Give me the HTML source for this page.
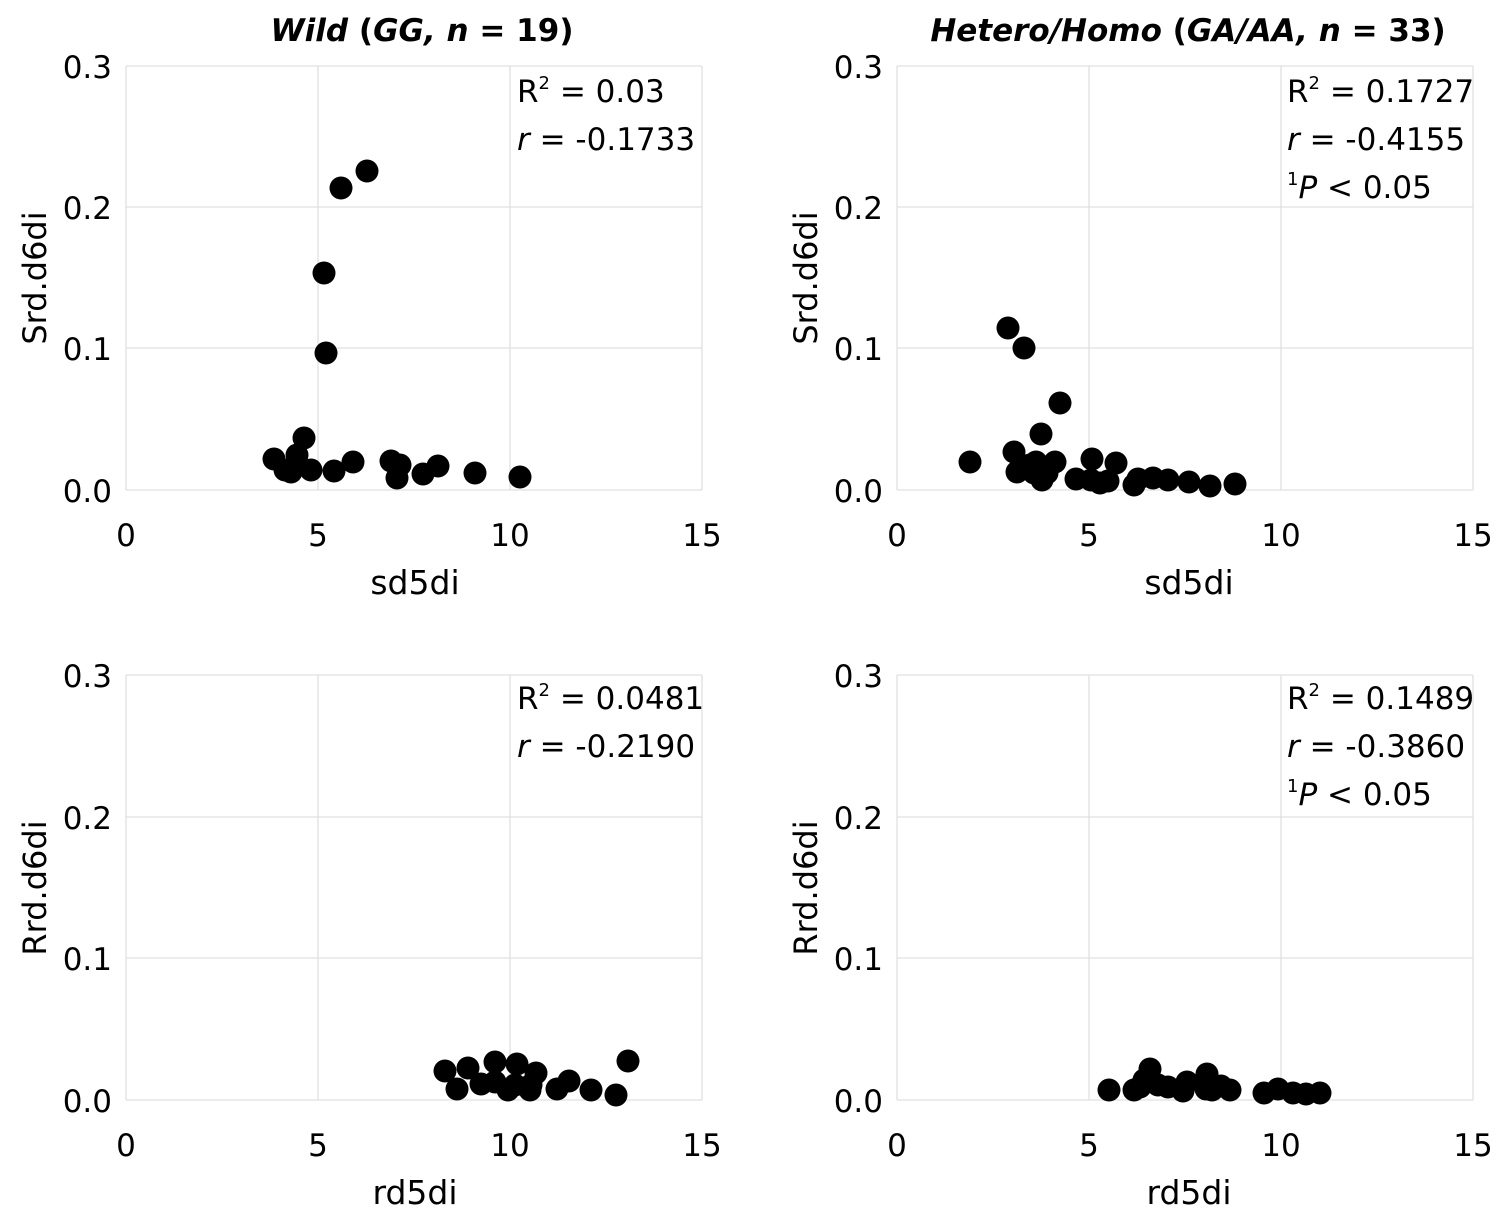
<!DOCTYPE html>
<html><head><meta charset="utf-8"><style>
html,body{margin:0;padding:0;background:#fff}
svg{display:block}
text{font-family:"DejaVu Sans","Liberation Sans",sans-serif;fill:#000}
</style></head><body>
<svg width="1498" height="1223" viewBox="0 0 1498 1223" xmlns="http://www.w3.org/2000/svg">
<g stroke="#e0e0e0" stroke-width="1.3" fill="none">
<line x1="126" y1="66" x2="702" y2="66"/><line x1="126" y1="207" x2="702" y2="207"/><line x1="126" y1="348" x2="702" y2="348"/><line x1="126" y1="490" x2="702" y2="490"/>
<line x1="126" y1="66" x2="126" y2="490"/><line x1="318" y1="66" x2="318" y2="490"/><line x1="510" y1="66" x2="510" y2="490"/><line x1="702" y1="66" x2="702" y2="490"/>
<line x1="897" y1="66" x2="1473" y2="66"/><line x1="897" y1="207" x2="1473" y2="207"/><line x1="897" y1="348" x2="1473" y2="348"/><line x1="897" y1="490" x2="1473" y2="490"/>
<line x1="897" y1="66" x2="897" y2="490"/><line x1="1089" y1="66" x2="1089" y2="490"/><line x1="1281" y1="66" x2="1281" y2="490"/><line x1="1473" y1="66" x2="1473" y2="490"/>
<line x1="126" y1="675" x2="702" y2="675"/><line x1="126" y1="817" x2="702" y2="817"/><line x1="126" y1="958" x2="702" y2="958"/><line x1="126" y1="1100" x2="702" y2="1100"/>
<line x1="126" y1="675" x2="126" y2="1100"/><line x1="318" y1="675" x2="318" y2="1100"/><line x1="510" y1="675" x2="510" y2="1100"/><line x1="702" y1="675" x2="702" y2="1100"/>
<line x1="897" y1="675" x2="1473" y2="675"/><line x1="897" y1="817" x2="1473" y2="817"/><line x1="897" y1="958" x2="1473" y2="958"/><line x1="897" y1="1100" x2="1473" y2="1100"/>
<line x1="897" y1="675" x2="897" y2="1100"/><line x1="1089" y1="675" x2="1089" y2="1100"/><line x1="1281" y1="675" x2="1281" y2="1100"/><line x1="1473" y1="675" x2="1473" y2="1100"/>
</g>

<g fill="#000">
<circle cx="274" cy="459" r="11.5"/><circle cx="304" cy="438" r="11.5"/><circle cx="291" cy="472" r="11.5"/><circle cx="311" cy="470" r="11.5"/><circle cx="297" cy="455" r="11.5"/><circle cx="285" cy="470" r="11.5"/><circle cx="334" cy="471" r="11.5"/><circle cx="353" cy="462" r="11.5"/><circle cx="391" cy="461" r="11.5"/><circle cx="397" cy="478" r="11.5"/><circle cx="400" cy="465" r="11.5"/><circle cx="423" cy="474" r="11.5"/><circle cx="438" cy="466" r="11.5"/><circle cx="475" cy="473" r="11.5"/><circle cx="520" cy="477" r="11.5"/>
<circle cx="341" cy="188" r="11.5"/><circle cx="367" cy="171" r="11.5"/><circle cx="324" cy="273" r="11.5"/><circle cx="326" cy="353" r="11.5"/>
<circle cx="1008" cy="328" r="11.5"/><circle cx="1024" cy="348" r="11.5"/><circle cx="970" cy="462" r="11.5"/><circle cx="1060" cy="403" r="11.5"/><circle cx="1041" cy="434" r="11.5"/>
<circle cx="1014" cy="452" r="11.5"/><circle cx="1017" cy="472" r="11.5"/><circle cx="1034" cy="473" r="11.5"/><circle cx="1036" cy="462" r="11.5"/><circle cx="1055" cy="462" r="11.5"/><circle cx="1042" cy="480" r="11.5"/><circle cx="1047" cy="473" r="11.5"/><circle cx="1030" cy="465" r="11.5"/>
<circle cx="1076" cy="479" r="11.5"/><circle cx="1091" cy="480" r="11.5"/><circle cx="1092" cy="459" r="11.5"/><circle cx="1100" cy="483" r="11.5"/><circle cx="1116" cy="463" r="11.5"/><circle cx="1108" cy="481" r="11.5"/><circle cx="1134" cy="485" r="11.5"/><circle cx="1138" cy="479" r="11.5"/><circle cx="1153" cy="478" r="11.5"/><circle cx="1168" cy="480" r="11.5"/><circle cx="1189" cy="482" r="11.5"/><circle cx="1210" cy="486" r="11.5"/><circle cx="1235" cy="484" r="11.5"/>
<circle cx="445" cy="1071" r="11.5"/><circle cx="457" cy="1089" r="11.5"/><circle cx="468" cy="1068" r="11.5"/><circle cx="481" cy="1084" r="11.5"/><circle cx="495" cy="1062" r="11.5"/><circle cx="508" cy="1090" r="11.5"/><circle cx="517" cy="1064" r="11.5"/><circle cx="530" cy="1090" r="11.5"/><circle cx="536" cy="1073" r="11.5"/><circle cx="531" cy="1085" r="11.5"/><circle cx="557" cy="1089" r="11.5"/><circle cx="569" cy="1081" r="11.5"/><circle cx="591" cy="1090" r="11.5"/><circle cx="616" cy="1095" r="11.5"/><circle cx="628" cy="1061" r="11.5"/><circle cx="495" cy="1082" r="11.5"/><circle cx="515" cy="1085" r="11.5"/>
<circle cx="1109" cy="1090" r="11.5"/><circle cx="1134" cy="1090" r="11.5"/><circle cx="1144" cy="1080" r="11.5"/><circle cx="1150" cy="1069" r="11.5"/><circle cx="1140" cy="1087" r="11.5"/><circle cx="1168" cy="1087" r="11.5"/><circle cx="1187" cy="1082" r="11.5"/><circle cx="1183" cy="1091" r="11.5"/><circle cx="1206" cy="1089" r="11.5"/><circle cx="1207" cy="1074" r="11.5"/><circle cx="1212" cy="1090" r="11.5"/><circle cx="1221" cy="1086" r="11.5"/><circle cx="1230" cy="1090" r="11.5"/><circle cx="1264" cy="1093" r="11.5"/><circle cx="1278" cy="1089" r="11.5"/><circle cx="1293" cy="1093" r="11.5"/><circle cx="1306" cy="1094" r="11.5"/><circle cx="1320" cy="1093" r="11.5"/><circle cx="1158" cy="1085" r="11.5"/>
</g>

<g font-size="31">
<text x="422" y="41" text-anchor="middle" font-weight="bold" font-style="italic">Wild <tspan font-style="normal">(</tspan>GG, n<tspan font-style="normal"> = 19)</tspan></text>
<text x="1188" y="41" text-anchor="middle" font-weight="bold" font-style="italic">Hetero/Homo <tspan font-style="normal">(</tspan>GA/AA, n<tspan font-style="normal"> = 33)</tspan></text>

<g text-anchor="end">
<text x="112" y="78">0.3</text><text x="112" y="219">0.2</text><text x="112" y="360">0.1</text><text x="112" y="502">0.0</text>
<text x="883" y="78">0.3</text><text x="883" y="219">0.2</text><text x="883" y="360">0.1</text><text x="883" y="502">0.0</text>
<text x="112" y="687">0.3</text><text x="112" y="829">0.2</text><text x="112" y="970">0.1</text><text x="112" y="1112">0.0</text>
<text x="883" y="687">0.3</text><text x="883" y="829">0.2</text><text x="883" y="970">0.1</text><text x="883" y="1112">0.0</text>
</g>
<g text-anchor="middle">
<text x="126" y="546">0</text><text x="318" y="546">5</text><text x="510" y="546">10</text><text x="702" y="546">15</text>
<text x="897" y="546">0</text><text x="1089" y="546">5</text><text x="1281" y="546">10</text><text x="1473" y="546">15</text>
<text x="126" y="1156">0</text><text x="318" y="1156">5</text><text x="510" y="1156">10</text><text x="702" y="1156">15</text>
<text x="897" y="1156">0</text><text x="1089" y="1156">5</text><text x="1281" y="1156">10</text><text x="1473" y="1156">15</text>
<g font-size="33">
<text x="415" y="594">sd5di</text><text x="1189" y="594">sd5di</text>
<text x="415" y="1204">rd5di</text><text x="1189" y="1204">rd5di</text>
</g>
</g>
<g font-size="32">
<text transform="translate(46,278) rotate(-90)" text-anchor="middle">Srd.d6di</text>
<text transform="translate(817,278) rotate(-90)" text-anchor="middle">Srd.d6di</text>
<text transform="translate(46,888) rotate(-90)" text-anchor="middle">Rrd.d6di</text>
<text transform="translate(817,888) rotate(-90)" text-anchor="middle">Rrd.d6di</text>
</g>

<text x="517" y="102">R<tspan font-size="18" dy="-13">2</tspan><tspan dy="13"> = 0.03</tspan></text>
<text x="517" y="150"><tspan font-style="italic">r</tspan> = -0.1733</text>
<text x="1287" y="102">R<tspan font-size="18" dy="-13">2</tspan><tspan dy="13"> = 0.1727</tspan></text>
<text x="1287" y="150"><tspan font-style="italic">r</tspan> = -0.4155</text>
<text x="1287" y="198"><tspan font-size="18" dy="-13">1</tspan><tspan dy="13" font-style="italic">P</tspan> &lt; 0.05</text>
<text x="517" y="709">R<tspan font-size="18" dy="-13">2</tspan><tspan dy="13"> = 0.0481</tspan></text>
<text x="517" y="757"><tspan font-style="italic">r</tspan> = -0.2190</text>
<text x="1287" y="709">R<tspan font-size="18" dy="-13">2</tspan><tspan dy="13"> = 0.1489</tspan></text>
<text x="1287" y="757"><tspan font-style="italic">r</tspan> = -0.3860</text>
<text x="1287" y="805"><tspan font-size="18" dy="-13">1</tspan><tspan dy="13" font-style="italic">P</tspan> &lt; 0.05</text>
</g>
</svg>
</body></html>
